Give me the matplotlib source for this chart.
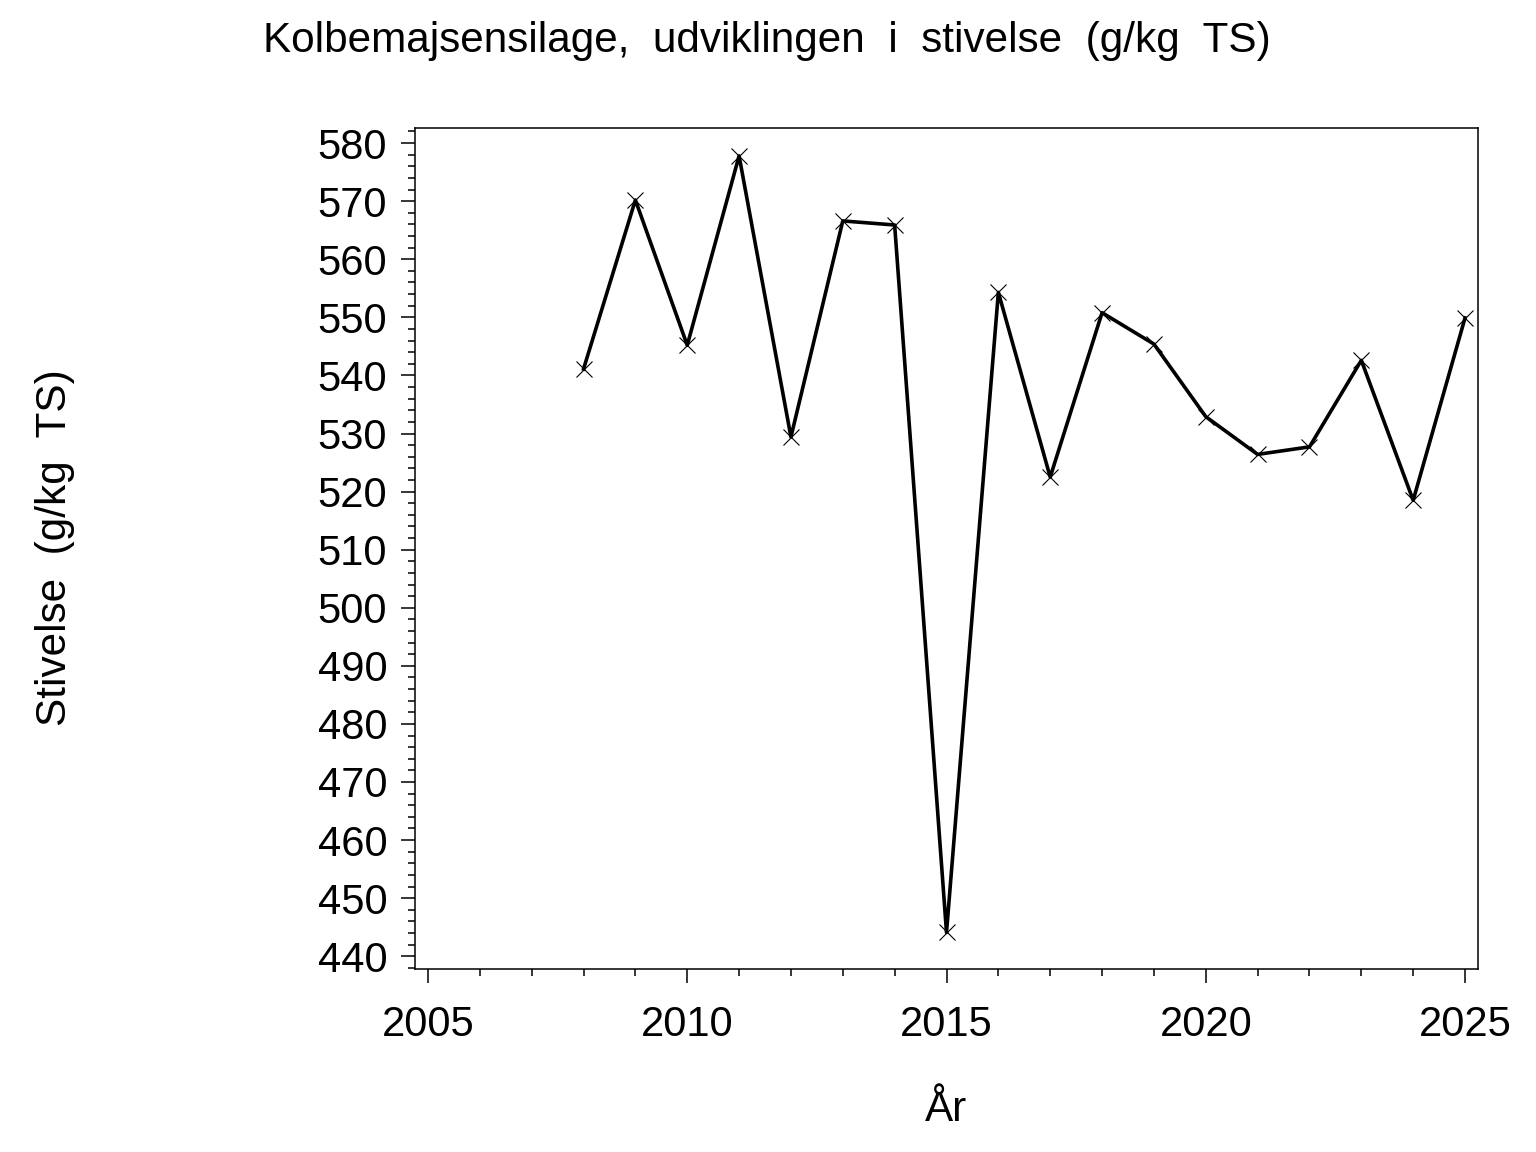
import matplotlib
matplotlib.use("Agg")
import matplotlib.pyplot as plt
from matplotlib.ticker import MultipleLocator

plt.rcParams.update({
    "font.family": ["Liberation Sans", "DejaVu Sans"],
    "font.size": 30,
})

years = [2008, 2009, 2010, 2011, 2012, 2013, 2014, 2015, 2016,
         2017, 2018, 2019, 2020, 2021, 2022, 2023, 2024, 2025]
stivelse = [541.1, 570.2, 545.2, 577.8, 529.4, 566.6, 565.9, 444.1, 554.3,
            522.5, 550.8, 545.4, 532.9, 526.4, 527.7, 542.6, 518.5, 549.9]

title = "Kolbemajsensilage,  udviklingen  i  stivelse  (g/kg  TS)"
ylabel = "Stivelse  (g/kg  TS)"
xlabel = "År"

fig = plt.figure(figsize=(15.36, 11.52), dpi=100)
ax = fig.add_axes([415 / 1536, 1 - 969 / 1152, 1063 / 1536, 841 / 1152])

ax.plot(years, stivelse, color="black", linewidth=2.6,
        marker="x", markersize=11, markeredgewidth=0.8)

ax.set_xlim(2004.75, 2025.25)
ax.set_ylim(437.8, 582.6)
ax.xaxis.set_major_locator(MultipleLocator(5))
ax.xaxis.set_minor_locator(MultipleLocator(1))
ax.yaxis.set_major_locator(MultipleLocator(10))
ax.yaxis.set_minor_locator(MultipleLocator(2))

for side in ax.spines.values():
    side.set_linewidth(1.1)
ax.tick_params(axis="both", which="major", length=10, width=1.1, labelsize=30)
ax.tick_params(axis="both", which="minor", length=5, width=1.1)
ax.tick_params(axis="x", which="major", pad=16)
ax.tick_params(axis="y", which="major", pad=10)

fig.text(0.499, 0.964, title, ha="center", va="center", fontsize=30.4)
fig.text(55 / 1536, 1 - 548 / 1152, ylabel, ha="center", va="center",
         rotation=90, fontsize=30.4)
fig.text(946 / 1536, 1 - 1110 / 1152, xlabel, ha="center", va="center", fontsize=30.4)

fig.savefig("out.png", dpi=100)
